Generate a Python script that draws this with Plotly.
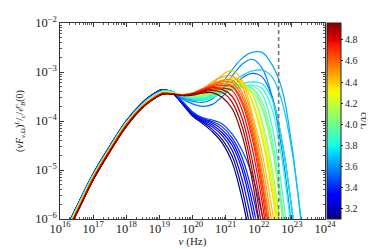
import plotly.graph_objects as go
from plotly.colors import sample_colorscale

# log10 frequency grid (Hz) of the control points
log_nu = [16.2, 16.6, 17.0, 17.5, 18.0, 18.5, 18.8, 19.1, 19.4, 19.7, 20.0, 20.3,
          20.6, 20.9, 21.2, 21.5, 21.8, 22.1, 22.4, 22.7, 23.0, 23.3, 23.6]

ct_over_L = [3.10, 3.16, 3.22, 3.28, 3.34, 3.40, 3.46, 3.52, 3.58, 3.64, 3.70, 3.76,
             3.82, 3.88, 3.94, 4.00, 4.06, 4.12, 4.18, 4.24, 4.30, 4.36, 4.42, 4.48,
             4.54, 4.60, 4.66, 4.72, 4.78, 4.84, 4.90, 4.96]

# rising synchrotron part (first 8 grid points), per group
rise_blue = [-6.18, -5.62, -5.08, -4.52, -4.00, -3.62, -3.46, -3.36]
rise_cyan = [-6.21, -5.65, -5.11, -4.55, -4.03, -3.65, -3.49, -3.39]
rise_mid = [-6.24, -5.68, -5.14, -4.57, -4.05, -3.67, -3.51, -3.41]
rise_orng = [-6.27, -5.72, -5.17, -4.60, -4.08, -3.70, -3.54, -3.43]
rise_red = [-6.30, -5.75, -5.20, -4.63, -4.11, -3.72, -3.56, -3.45]

# log10 of (nu F) from 10^19.4 Hz onward, one list per ct/L
tail_log = [
    [-3.44, -3.66, -3.90, -4.05, -4.22, -4.45, -4.85, -5.60, -6.60],
    [-3.44, -3.65, -3.88, -4.02, -4.17, -4.38, -4.72, -5.40, -6.40],
    [-3.43, -3.64, -3.87, -4.00, -4.12, -4.30, -4.60, -5.20, -6.10, -7.10],
    [-3.43, -3.63, -3.86, -3.98, -4.08, -4.24, -4.50, -5.00, -5.85, -6.90],
    [-3.43, -3.62, -3.84, -3.96, -4.04, -4.18, -4.42, -4.88, -5.65, -6.70],
    [-3.42, -3.61, -3.83, -3.95, -4.01, -4.12, -4.35, -4.75, -5.45, -6.40],
    [-3.42, -3.60, -3.81, -3.93, -3.98, -4.06, -4.27, -4.60, -5.10, -5.90, -6.80],
    [-3.40, -3.55, -3.65, -3.70, -3.66, -3.50, -3.30, -3.12, -3.03, -3.10, -3.50, -4.40, -5.80, -7.50],
    [-3.40, -3.53, -3.60, -3.62, -3.55, -3.35, -3.08, -2.84, -2.74, -2.92, -3.50, -4.60, -6.20],
    [-3.40, -3.52, -3.57, -3.56, -3.45, -3.22, -2.95, -2.72, -2.60, -2.60, -2.85, -3.35, -4.50, -6.20, -8.00],
    [-3.40, -3.50, -3.55, -3.55, -3.48, -3.35, -3.20, -3.07, -2.98, -2.96, -3.10, -3.60, -4.60, -6.10, -7.80],
    [-3.41, -3.50, -3.55, -3.58, -3.52, -3.42, -3.32, -3.24, -3.20, -3.24, -3.55, -4.40, -5.80, -7.50],
    [-3.41, -3.49, -3.54, -3.56, -3.52, -3.44, -3.36, -3.30, -3.27, -3.33, -3.75, -4.80, -6.30],
    [-3.42, -3.48, -3.52, -3.54, -3.50, -3.43, -3.35, -3.30, -3.28, -3.45, -4.10, -5.40, -7.00],
    [-3.42, -3.48, -3.51, -3.52, -3.48, -3.41, -3.35, -3.31, -3.33, -3.60, -4.35, -5.70, -7.30],
    [-3.42, -3.47, -3.50, -3.50, -3.45, -3.36, -3.28, -3.25, -3.33, -3.70, -4.50, -5.85, -7.40],
    [-3.43, -3.47, -3.49, -3.48, -3.44, -3.38, -3.34, -3.32, -3.40, -3.75, -4.55, -5.90, -7.50],
    [-3.43, -3.47, -3.48, -3.46, -3.42, -3.35, -3.30, -3.28, -3.45, -4.00, -4.95, -6.35],
    [-3.43, -3.47, -3.47, -3.44, -3.38, -3.30, -3.24, -3.22, -3.45, -4.10, -5.10, -6.50],
    [-3.43, -3.46, -3.46, -3.43, -3.36, -3.27, -3.22, -3.25, -3.58, -4.25, -5.25, -6.70],
    [-3.44, -3.46, -3.45, -3.42, -3.33, -3.22, -3.16, -3.22, -3.60, -4.30, -5.35, -6.80],
    [-3.44, -3.46, -3.44, -3.42, -3.30, -3.18, -3.12, -3.20, -3.60, -4.35, -5.45, -6.90],
    [-3.44, -3.46, -3.43, -3.40, -3.25, -3.06, -2.97, -3.18, -3.85, -4.65, -5.80, -7.20],
    [-3.44, -3.46, -3.43, -3.36, -3.20, -3.10, -3.08, -3.30, -3.95, -4.85, -6.10, -7.50],
    [-3.45, -3.47, -3.43, -3.34, -3.24, -3.17, -3.17, -3.42, -4.05, -5.05, -6.40],
    [-3.45, -3.47, -3.43, -3.35, -3.26, -3.20, -3.22, -3.50, -4.15, -5.20, -6.60],
    [-3.45, -3.47, -3.44, -3.36, -3.28, -3.24, -3.28, -3.58, -4.25, -5.30, -6.70],
    [-3.45, -3.47, -3.44, -3.37, -3.30, -3.28, -3.30, -3.65, -4.35, -5.45, -6.90],
    [-3.45, -3.48, -3.45, -3.38, -3.32, -3.33, -3.38, -3.78, -4.55, -5.65, -7.10],
    [-3.45, -3.48, -3.45, -3.39, -3.35, -3.36, -3.50, -3.95, -4.80, -5.90, -7.30],
    [-3.45, -3.48, -3.46, -3.41, -3.38, -3.42, -3.62, -4.12, -5.00, -6.20],
    [-3.45, -3.48, -3.47, -3.43, -3.42, -3.52, -3.75, -4.30, -5.20, -6.50],
]

rise_group = ([rise_blue] * 7 + [rise_cyan] * 6 + [rise_mid] * 9 +
              [rise_orng] * 5 + [rise_red] * 5)

log_nu_dashed = 22.6  # dashed vertical marker

CMIN, CMAX = 3.1, 4.96
jet = [[0.0, 'rgb(0,0,128)'], [0.11, 'rgb(0,0,255)'], [0.125, 'rgb(0,0,255)'],
       [0.34, 'rgb(0,219,255)'], [0.35, 'rgb(0,230,247)'], [0.375, 'rgb(21,255,226)'],
       [0.64, 'rgb(239,255,8)'], [0.65, 'rgb(247,246,0)'], [0.66, 'rgb(255,236,0)'],
       [0.89, 'rgb(255,19,0)'], [0.91, 'rgb(232,0,0)'], [1.0, 'rgb(128,0,0)']]

SERIF = "Liberation Serif, Times New Roman, serif"
fig = go.Figure()

for ct, rise, tail in zip(ct_over_L, rise_group, tail_log):
    ylog = rise + tail
    xs = [10 ** v for v in log_nu[:len(ylog)]]
    ys = [10 ** v for v in ylog]
    col = sample_colorscale(jet, [(ct - CMIN) / (CMAX - CMIN)])[0]
    fig.add_trace(go.Scatter(x=xs, y=ys, mode='lines',
                             line=dict(color=col, width=1.2, shape='spline', smoothing=1.0),
                             showlegend=False, hoverinfo='skip'))

fig.add_trace(go.Scatter(x=[10 ** log_nu_dashed] * 2, y=[1e-2, 1e-6], mode='lines',
                         line=dict(color='#777777', width=1.6, dash='4px,3px'),
                         showlegend=False, hoverinfo='skip'))

# colorbar carrier
fig.add_trace(go.Scatter(x=[None], y=[None], mode='markers', showlegend=False,
                         marker=dict(color=[CMIN], colorscale=jet, cmin=CMIN, cmax=CMAX,
                                     showscale=True,
                                     colorbar=dict(x=1.0075, xanchor='left', xpad=0, ypad=0,
                                                   y=0.5, yanchor='middle', len=1, lenmode='fraction',
                                                   thickness=14, thicknessmode='pixels',
                                                   outlinecolor='#222', outlinewidth=1,
                                                   tickvals=[3.2, 3.4, 3.6, 3.8, 4.0, 4.2, 4.4, 4.6, 4.8],
                                                   ticktext=['3.2', '3.4', '3.6', '3.8', '4.0', '4.2', '4.4', '4.6', '4.8'],
                                                   ticks='outside', ticklen=2, tickcolor='#222',
                                                   tickfont=dict(family=SERIF, size=10, color='#222')))))

fig.add_annotation(text='ct/L', xref='paper', yref='paper', x=(357 - 52) / 265, y=0.5,
                   xanchor='center', yanchor='middle', textangle=90, showarrow=False,
                   font=dict(family=SERIF, size=11, color='#222'))

axis_common = dict(type='log', dtick=1, exponentformat='power', showgrid=False, zeroline=False,
                   automargin=False,
                   showline=True, linecolor='#333', linewidth=1, mirror='allticks',
                   ticks='inside', ticklen=4, tickcolor='#333',
                   minor=dict(ticks='inside', ticklen=2, tickcolor='#555', dtick='D1', showgrid=False),
                   tickfont=dict(family=SERIF, size=10, color='#222'))

fig.update_layout(
    width=374, height=249,
    margin=dict(l=52, r=57, t=15, b=38, autoexpand=False),
    paper_bgcolor='white', plot_bgcolor='white',
    xaxis=dict(range=[16, 24], ticklabelstandoff=-2,
               title=dict(text='<i>ν</i> (Hz)', standoff=2,
                          font=dict(family=SERIF, size=11, color='#222')),
               **axis_common),
    yaxis=dict(range=[-6, -2],
               title=dict(text='(<i>νF</i><sub><i>ν</i>,Ω</sub>)<sup><i>L</i></sup>/<sub><i>c</i></sub>/<i>ℰ</i><sub><i>B</i></sub>(0)',
                          standoff=9, font=dict(family=SERIF, size=10, color='#222')),
               **axis_common),
)

fig.write_html("out.html")
